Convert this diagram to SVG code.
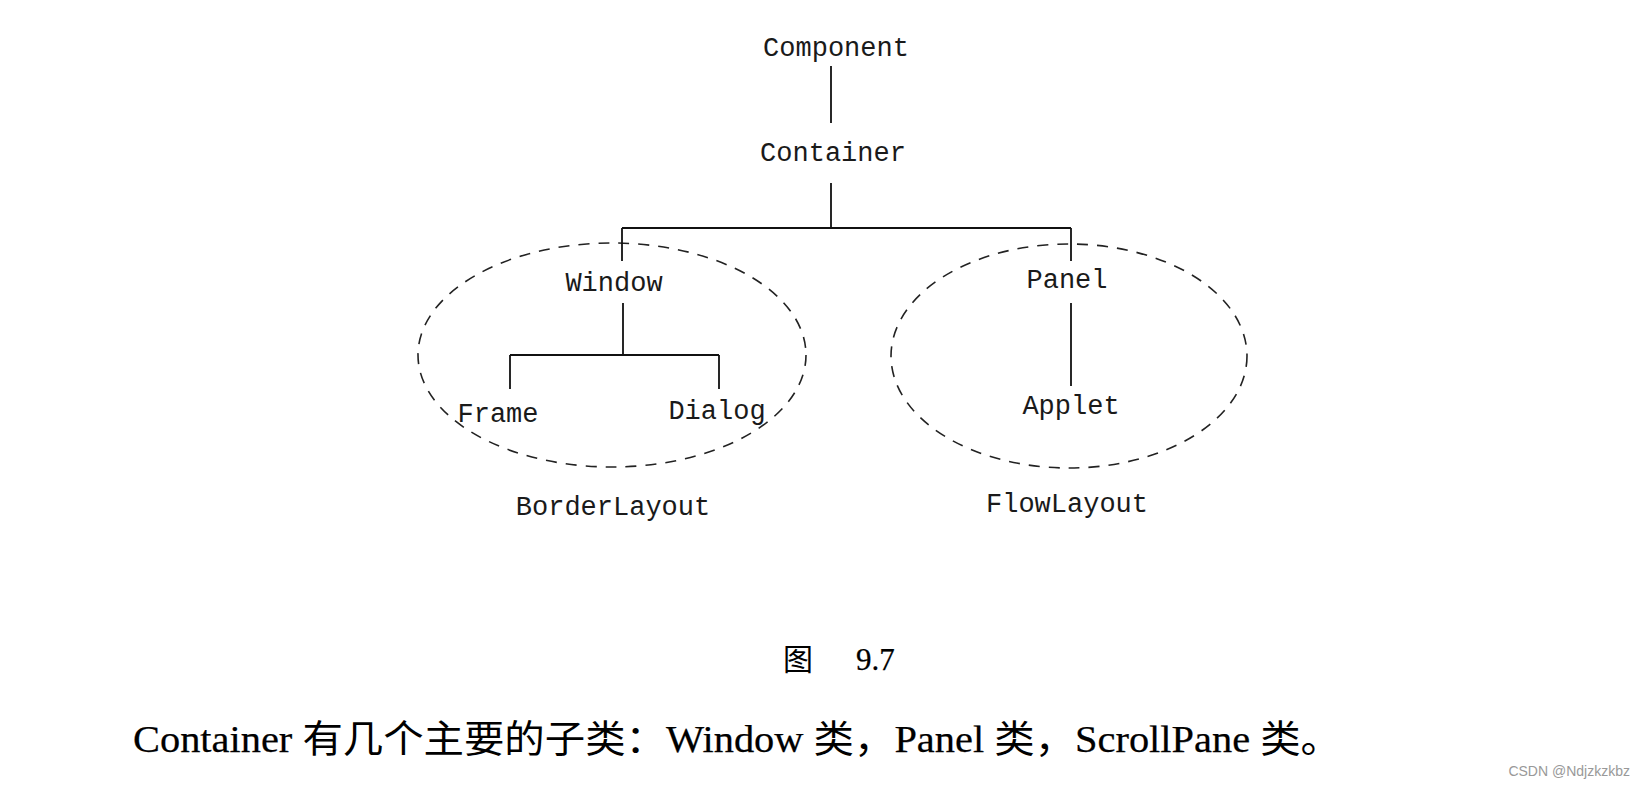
<svg xmlns="http://www.w3.org/2000/svg" width="1638" height="789" viewBox="0 0 1638 789">
<style>
.lbl{font-family:"Liberation Mono","DejaVu Sans Mono",monospace;font-size:27px;fill:#1a1a1a;text-anchor:middle}
.ln{stroke:#111;stroke-width:1.8;fill:none}
.grp{stroke:#222;stroke-width:1.6;fill:none;stroke-dasharray:11 9}
.cap{font-family:"Liberation Serif","Noto Sans CJK SC",serif;fill:#000}
.lat{stroke:#000;stroke-width:0.25}
.cjk{font-family:"Noto Sans CJK SC",sans-serif;font-weight:400}
</style>
<rect width="1638" height="789" fill="#fff"/>
<g id="groups">
<ellipse id="border-group" class="grp" cx="612" cy="355" rx="194" ry="112"/>
<ellipse id="flow-group" class="grp" cx="1069" cy="356" rx="178" ry="112"/>
</g>
<g id="connectors">
<path class="ln" d="M831 66V123"/>
<path class="ln" d="M831 183V228M622 228H1071M622 228V261M1071 228V261"/>
<path class="ln" d="M623 303V355M510 355H719M510 355V389M719 355V389"/>
<path class="ln" d="M1071 303V386"/>
</g>
<g id="component"><text class="lbl" x="836" y="56">Component</text></g>
<g id="container"><text class="lbl" x="833" y="161">Container</text></g>
<g id="window"><text class="lbl" x="614" y="291">Window</text></g>
<g id="frame"><text class="lbl" x="498" y="422">Frame</text></g>
<g id="dialog"><text class="lbl" x="717" y="419">Dialog</text></g>
<g id="panel"><text class="lbl" x="1067" y="288">Panel</text></g>
<g id="applet"><text class="lbl" x="1071" y="414">Applet</text></g>
<g id="borderlayout"><text class="lbl" x="613" y="515">BorderLayout</text></g>
<g id="flowlayout"><text class="lbl" x="1067" y="512">FlowLayout</text></g>
<text class="cap cjk" x="783" y="670" font-size="30">图</text>
<text class="cap lat" x="856" y="670" font-size="31">9.7</text>
<text class="cap" x="133" y="752" font-size="38" textLength="1208" lengthAdjust="spacingAndGlyphs"><tspan class="lat">Container </tspan><tspan class="cjk">有几个主要的子类：</tspan><tspan class="lat">Window </tspan><tspan class="cjk">类，</tspan><tspan class="lat">Panel </tspan><tspan class="cjk">类，</tspan><tspan class="lat">ScrollPane </tspan><tspan class="cjk">类。</tspan></text>
<text x="1630" y="776" font-family="&quot;Liberation Sans&quot;,sans-serif" font-size="14" fill="#999" text-anchor="end">CSDN @Ndjzkzkbz</text>
</svg>
